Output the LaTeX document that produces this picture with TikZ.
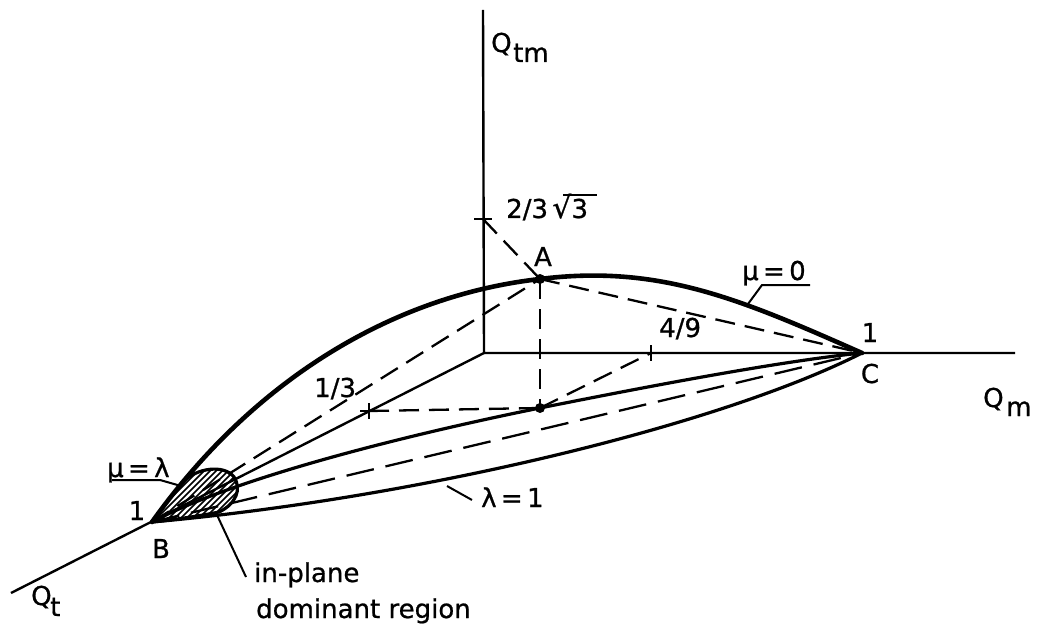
\documentclass[tikz,border=0pt]{standalone}
\usepackage{fontspec}
\setmainfont[FakeBold=0.8]{DejaVu Sans}
\usetikzlibrary{calc}
\begin{document}
\begin{tikzpicture}[x=1pt,y=-1pt,
  axis/.style={line width=2.4pt},
  heavy/.style={line width=4.6pt, line cap=round},
  curve/.style={line width=3.2pt, line cap=round},
  dashline/.style={line width=2.3pt, dash pattern=on 20pt off 10pt},
  longdash/.style={line width=2.3pt, dash pattern=on 28pt off 12pt},
  leader/.style={line width=2pt},
  hatch/.style={line width=1.6pt},
  lbl/.style={font=\fontsize{26}{30}\selectfont, inner sep=0pt}]
\useasboundingbox (0,0) rectangle (1039,631);
% key points
\coordinate (O) at (484,353);
\coordinate (Ztop) at (483,10);
\coordinate (Mend) at (1015,353);
\coordinate (Tend) at (11,593);
\coordinate (B) at (152,522);
\coordinate (C) at (862,353);
\coordinate (A) at (540,279);
\coordinate (P) at (540,408);
\coordinate (T1) at (483,219);
\coordinate (T2) at (369,411);
\coordinate (T3) at (651,353);
% axes
\draw[axis] (Ztop) -- (O) -- (Mend);
\draw[axis] (O) -- (Tend);
% ticks
\draw[axis] ($(T1)+(-9,0)$) -- ($(T1)+(9,0)$);
\draw[axis] ($(T2)+(-9,0)$) -- ($(T2)+(9,0)$) ($(T2)+(0,-8)$) -- ($(T2)+(0,8)$);
\draw[axis] ($(T3)+(-9,0)$) -- ($(T3)+(9,0)$) ($(T3)+(0,-8)$) -- ($(T3)+(0,8)$);
% dashed construction lines
\draw[dashline] (T1) -- (A);
\draw[dashline] (A) -- (C);
\draw[dashline] (A) -- (P);
\draw[dashline] (T2) -- (P);
\draw[dashline] (P) -- (T3);
\draw[dashline] (B) -- (A);
\draw[longdash] (B) -- (C);
% curves
\draw[heavy] (B) .. controls (252,382) and (390,296) .. (A)
             .. controls (660,264) and (742,300) .. (C);
\draw[curve] (B) .. controls (250,470) and (460,424) .. (P)
             .. controls (640,388) and (780,361) .. (C);
\draw[curve] (B) .. controls (420,498) and (720,425) .. (C);
% dots
\fill (A) circle (5);
\fill (P) circle (5);
% in-plane dominant region
\begin{scope}
  \clip (B) .. controls (160,510) and (172,494) .. (183,482)
        .. controls (196,468) and (224,464) .. (234,477)
        .. controls (242,489) and (236,504) .. (219,512)
        .. controls (200,516) and (172,520) .. (B) -- cycle;
  \foreach \a in {110,116,...,230} {
    \draw[hatch] (\a,535) -- (\a+90,445);
  }
\end{scope}
\draw[curve] (183,482)
        .. controls (196,468) and (224,464) .. (234,477)
        .. controls (242,489) and (236,504) .. (219,512)
        .. controls (200,516) and (172,520) .. (B);
% leaders
\draw[leader] (748,304) -- (762,285) -- (810,285);
\draw[leader] (112,480) -- (160,480) -- (181,486);
\draw[leader] (447,486) -- (472,500);
\draw[leader] (217,515) -- (246,577);
% labels
\node[lbl, anchor=base west] (qtm) at (491,52) {Q};
\node[lbl, anchor=base west] (qtmsub) at (513,62) {tm};
\node[lbl, anchor=base west] (qm) at (983,407) {Q};
\node[lbl, anchor=base west] (qmsub) at (1006,416) {m};
\node[lbl, anchor=base west] (qt) at (31,605) {Q};
\node[lbl, anchor=base west] (qtsub) at (50,616) {t};
\node[lbl, anchor=base west] (t23) at (506,218) {2/3\,{\fontsize{30}{30}\selectfont √}3};
\draw[leader] (563,195) -- (597,195);
\node[lbl, anchor=base] (la) at (543,266) {A};
\node[lbl, anchor=base west] (lmu0) at (742,280) {μ\,=\,0};
\node[lbl, anchor=base] (lc1) at (870,342) {1};
\node[lbl, anchor=base] (lc) at (870,383) {C};
\node[lbl, anchor=base west] (l49) at (659,337) {4/9};
\node[lbl, anchor=base west] (l13) at (314,397) {1/3};
\node[lbl, anchor=base west] (lmul) at (107,477) {μ\,=\,λ};
\node[lbl, anchor=base] (lb1) at (137,520) {1};
\node[lbl, anchor=base] (lb) at (161,558) {B};
\node[lbl, anchor=base west] (ll1) at (481,507) {λ\,=\,1};
\node[lbl, anchor=base west] (lin) at (254,582) {in-plane};
\node[lbl, anchor=base west] (ldom) at (256,618) {dominant region};
\end{tikzpicture}
\end{document}
